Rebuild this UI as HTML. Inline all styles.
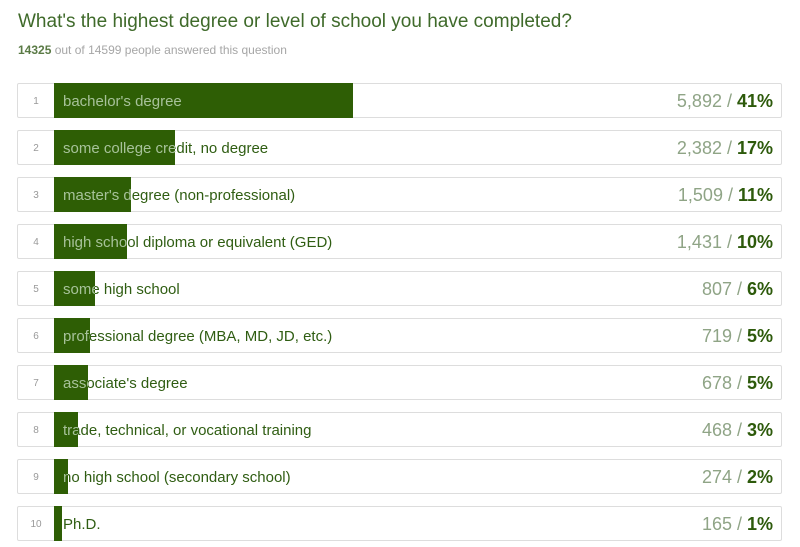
<!DOCTYPE html>
<html><head><meta charset="utf-8"><style>
body{margin:0;width:800px;height:547px;background:#fff;font-family:"Liberation Sans",sans-serif;overflow:hidden;position:relative}
#title{position:absolute;left:18px;top:11px;font-size:19px;color:#3f6a2a}
#sub{position:absolute;left:18px;top:43px;font-size:12px;color:#a6a6a6}
#sub b{color:#5a7a45}
.row{position:absolute;left:17px;width:765px;height:35px;border:1px solid #ddd;border-radius:2px;box-sizing:border-box}
.num{position:absolute;left:0;width:36px;top:2px;height:32px;line-height:32px;text-align:center;font-size:10px;color:#999}
.lab{position:absolute;left:45px;top:2px;line-height:32px;font-size:15px;color:#2f5d12;white-space:nowrap}
.bar{position:absolute;left:36px;top:-1px;height:35px;background:#2e5e05;overflow:hidden}
.bar .lab{left:9px;color:#a7c29a;top:3px}
.val{position:absolute;right:8px;top:1px;line-height:32px;font-size:18px;color:#8fa486}
.val b{color:#2d5a0b}
</style></head><body>
<div id="title">What's the highest degree or level of school you have completed?</div>
<div id="sub"><b>14325</b> out of 14599 people answered this question</div>
<div id="chart"></div>
<script>
const labels=["bachelor's degree","some college credit, no degree","master's degree (non-professional)","high school diploma or equivalent (GED)","some high school","professional degree (MBA, MD, JD, etc.)","associate's degree","trade, technical, or vocational training","no high school (secondary school)","Ph.D."];
const counts=[5892,2382,1509,1431,807,719,678,468,274,165];
const pcts=[41,17,11,10,6,5,5,3,2,1];
const total=14325;
const chart=document.getElementById('chart');
const fullW=727;
labels.forEach((l,i)=>{
  const r=document.createElement('div');r.className='row';r.style.top=(83+i*47)+'px';
  
  
  const w=Math.round(counts[i]/total*fullW);
  r.innerHTML=`<div class="num">${i+1}</div><div class="lab">${l}</div><div class="bar" style="width:${w}px"><div class="lab">${l}</div></div><div class="val">${counts[i].toLocaleString('en-US')} / <b>${pcts[i]}%</b></div>`;
  r.querySelector('.bar');
  r.querySelector('.bar');
  r.querySelector('.val');
  r.querySelector('.val');
  chart.appendChild(r);
});
</script>
</body></html>
